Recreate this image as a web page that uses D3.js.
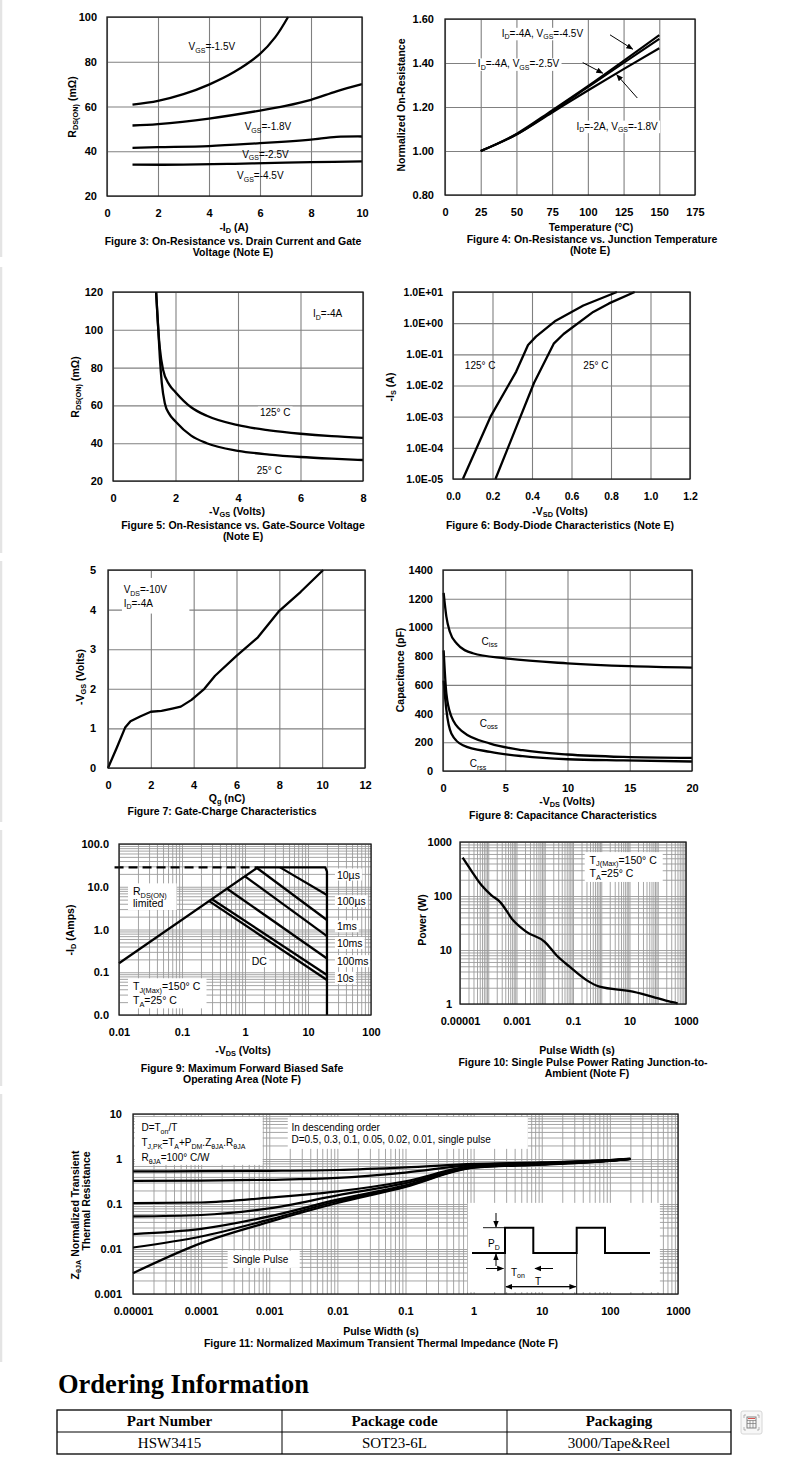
<!DOCTYPE html>
<html>
<head>
<meta charset="utf-8">
<script src="https://cdn.jsdelivr.net/npm/d3@7"></script>
<style>
  body { margin: 0; background: #fff; }
</style>
</head>
<body>
<svg id="page" width="790" height="1474"></svg>
<script>
// ---------------- data ----------------

// Figure 3: RDS(on) (mOhm) vs -ID (A)
const f3Vgs15 = [[1,60.8],[2,62.5],[3,65.5],[4,69.8],[5,75.5],[6,83.5],[6.6,91],[7.1,100]];
const f3Vgs18 = [[1,51.5],[2,52.1],[4,54.6],[6,58.2],[7,60.3],[8,63],[9,66.8],[10,70]];
const f3Vgs25 = [[1,41.5],[2,41.8],[4,42.3],[6,43.6],[7,44.3],[8,45.2],[9,46.4],[10,46.6]];
const f3Vgs45 = [[1,34],[3,34],[5,34.4],[7,34.9],[8,35.1],[10,35.5]];
const f3XTicks = [0,2,4,6,8,10];
const f3YTicks = [20,40,60,80,100];

// Figure 4: normalized on-resistance vs temperature
const f4Temp = [25,50,75,100,125,150];
const f4Vgs45 = [1.0,1.078,1.185,1.295,1.41,1.527];
const f4Vgs25 = [1.0,1.075,1.18,1.29,1.40,1.51];
const f4Vgs18 = [1.0,1.075,1.175,1.275,1.372,1.467];
const f4XTicks = [0,25,50,75,100,125,150,175];
const f4YTicks = [0.8,1.0,1.2,1.4,1.6];

// Figure 5: RDS(on) vs -VGS
const f5T25 = [[1.38,120],[1.45,100],[1.5,85],[1.56,72],[1.66,61],[1.8,55.5],[2,51.5],[2.5,44],[3,40],[4,36],[5,34],[6,32.7],[7,31.8],[8,31.1]];
const f5T125 = [[1.38,120],[1.45,100],[1.5,90],[1.6,79],[1.8,71],[2,67],[2.5,59],[3,54.5],[4,49.5],[5,46.8],[6,45],[7,43.7],[8,42.8]];
const f5XTicks = [0,2,4,6,8];
const f5YTicks = [20,40,60,80,100,120];

// Figure 6: body diode -IS (A) vs -VSD (V)
const f6T125 = [[0.05,1e-5],[0.19,1e-3],[0.32,2.8e-2],[0.38,0.2],[0.42,0.37],[0.52,1.2],[0.66,3.7],[0.83,10]];
const f6T25 = [[0.215,1e-5],[0.41,1.2e-2],[0.51,0.22],[0.56,0.45],[0.71,2.3],[0.79,4.3],[0.92,10]];
const f6XTicks = [0,0.2,0.4,0.6,0.8,1.0,1.2];
const f6YTicks = [1e-5,1e-4,1e-3,1e-2,1e-1,1,10];
const f6YLabels = ["1.0E-05","1.0E-04","1.0E-03","1.0E-02","1.0E-01","1.0E+00","1.0E+01"];

// Figure 7: gate charge
const f7Qg = [[0,0],[0.4,0.5],[0.8,1.02],[1.05,1.18],[1.5,1.3],[2,1.42],[2.5,1.44],[3,1.5],[3.4,1.55],[3.9,1.72],[4.5,2.0],[5,2.33],[6,2.83],[7,3.3],[8,3.97],[9,4.45],[10.05,5]];
const f7XTicks = [0,2,4,6,8,10,12];
const f7YTicks = [0,1,2,3,4,5];

// Figure 8: capacitance (pF) vs -VDS
const f8Ciss = [[0.05,1240],[0.27,1075],[0.55,970],[1.1,888],[2.4,820],[5,785],[10,750],[15,730],[20,720]];
const f8Coss = [[0.05,840],[0.27,540],[0.67,380],[1.6,272],[3.8,191],[6.4,145],[10,115],[14.5,98],[20,91]];
const f8Crss = [[0.05,630],[0.27,425],[0.67,262],[1.6,180],[3.8,133],[6.4,103],[10,82],[14.5,74],[20,66]];
const f8XTicks = [0,5,10,15,20];
const f8YTicks = [0,200,400,600,800,1000,1200,1400];

// Figure 9: safe operating area
const f9Envelope = [[0.01,0.162],[1.6,28.4],[18.8,28.4],[20,22.5],[20,0.01]];
const f9Dashed = [[0.0085,28.4],[1.6,28.4]];
const f9Pulses = ["10µs","100µs","1ms","10ms","100ms","10s"];
const f9Start = [[3.6,28.4],[1.55,27.5],[1.0,17.5],[0.52,9.0],[0.3,5.1],[0.27,4.6]];
const f9End = [[20,6.4],[20,1.67],[20,0.70],[20,0.21],[20,0.086],[20,0.066]];
const f9LabelY = [18.8,4.48,1.16,0.47,0.177,0.072];
const f9XTicks = [0.01,0.1,1,10,100];
const f9XLabels = ["0.01","0.1","1","10","100"];
const f9YTicks = [0.01,0.1,1,10,100];
const f9YLabels = ["0.0","0.1","1.0","10.0","100.0"];

// Figure 10: single pulse power rating
const f10Power = [[1.24e-5,514],[2.6e-5,287],[5.8e-5,158],[1.3e-4,103],[2.6e-4,78],[7.6e-4,35.6],[2.25e-3,21.7],[0.01,14.2],[0.026,8.0],[0.076,4.9],[0.3,2.77],[0.87,2.09],[13.1,1.70],[66.7,1.36],[195,1.15],[508,1.03]];
const f10XTicks = [1e-5,1e-3,0.1,10,1000];
const f10XLabels = ["0.00001","0.001","0.1","10","1000"];
const f10YTicks = [1,10,100,1000];

// Figure 11: normalized transient thermal impedance
const f11Time = [1e-5,1e-4,1e-3,1e-2,0.1,1,10,100,200];
const f11D05 = [0.53,0.535,0.545,0.57,0.65,0.78,0.84,0.95,1.02];
const f11D03 = [0.325,0.33,0.345,0.38,0.50,0.74,0.82,0.94,1.01];
const f11D01 = [0.105,0.108,0.138,0.19,0.32,0.70,0.80,0.93,1.0];
const f11D005 = [0.053,0.057,0.08,0.155,0.29,0.68,0.78,0.92,1.0];
const f11D002 = [0.0215,0.028,0.053,0.125,0.26,0.66,0.77,0.92,1.0];
const f11D001 = [0.0108,0.019,0.045,0.115,0.25,0.65,0.76,0.91,1.0];
const f11Single = [0.0029,0.0135,0.04,0.105,0.24,0.64,0.75,0.91,1.0];
const f11XTicks = [1e-5,1e-4,1e-3,1e-2,0.1,1,10,100,1000];
const f11XLabels = ["0.00001","0.0001","0.001","0.01","0.1","1","10","100","1000"];
const f11YTicks = [0.001,0.01,0.1,1,10];
const f11YLabels = ["0.001","0.01","0.1","1","10"];

// Ordering information
const orderHeaders = ["Part Number","Package code","Packaging"];
const orderRow = ["HSW3415","SOT23-6L","3000/Tape&Reel"];

// ---------------- helpers ----------------
const FONT = '"Liberation Sans", Arial, Helvetica, sans-serif';
const SERIF = '"Liberation Serif", "Times New Roman", serif';
const svg = d3.select("#page").attr("font-family", FONT);

svg.append("defs").append("marker")
  .attr("id", "arr").attr("viewBox", "0 0 10 10").attr("refX", 9).attr("refY", 5)
  .attr("markerWidth", 7).attr("markerHeight", 7).attr("markerUnits", "userSpaceOnUse")
  .attr("orient", "auto-start-reverse")
  .append("path").attr("d", "M0,1L10,5L0,9Z").attr("fill", "#000");

// "V_{GS}=-1.5V" -> tspans with subscripts
function rich(sel, str, drop) {
  drop = drop || 2.5;
  let low = false;
  str.split(/(_\{[^}]*\})/).filter(s => s.length).forEach(p => {
    if (p.startsWith("_{")) {
      sel.append("tspan").attr("font-size", "0.7em").attr("dy", low ? null : drop).text(p.slice(2, -1));
      low = true;
    } else {
      sel.append("tspan").attr("dy", low ? -drop : null).text(p);
      low = false;
    }
  });
  return sel;
}

function logGrid(dom) {
  const out = [];
  const e0 = Math.round(Math.log10(dom[0])), e1 = Math.round(Math.log10(dom[1]));
  for (let e = e0; e < e1; e++) for (let k = 1; k < 10; k++) out.push(k * Math.pow(10, e));
  out.push(dom[1]);
  return out;
}

function chart(c) {
  const [x0, y0, x1, y1] = c.box;
  const x = (c.xlog ? d3.scaleLog() : d3.scaleLinear()).domain(c.xdom).range([x0, x1]);
  const y = (c.ylog ? d3.scaleLog() : d3.scaleLinear()).domain(c.ydom).range([y1, y0]);
  const g = svg.append("g");
  const gridL = g.append("g"), labelL = g.append("g"), curveL = g.append("g"), frameL = g.append("g");
  const dense = c.xlog && c.ylog;
  const gridColor = dense ? "#9b9b9b" : "#808080";
  const gridW = dense ? 0.9 : 1.1;
  const tickSize = c.tickSize || 11;

  gridL.append("g").attr("transform", `translate(0,${y1})`)
    .call(d3.axisBottom(x).tickValues(c.xlog ? logGrid(c.xdom) : c.xticks).tickSize(-(y1 - y0)).tickFormat(""))
    .call(a => a.select(".domain").remove())
    .selectAll("line").attr("stroke", gridColor).attr("stroke-width", gridW);
  gridL.append("g").attr("transform", `translate(${x0},0)`)
    .call(d3.axisLeft(y).tickValues(c.ylog && c.yminor !== false ? logGrid(c.ydom) : c.yticks).tickSize(-(x1 - x0)).tickFormat(""))
    .call(a => a.select(".domain").remove())
    .selectAll("line").attr("stroke", gridColor).attr("stroke-width", gridW);

  const styleAxis = a => {
    a.select(".domain").remove();
    a.attr("font-family", FONT).attr("font-size", tickSize).attr("font-weight", "bold");
  };
  frameL.append("g").attr("transform", `translate(0,${y1})`)
    .call(d3.axisBottom(x).tickValues(c.xticks).tickSize(0).tickPadding(13.5)
      .tickFormat((d, i) => c.xlabels ? c.xlabels[i] : (c.xfmt ? d3.format(c.xfmt)(d) : d)))
    .call(styleAxis);
  frameL.append("g").attr("transform", `translate(${x0},0)`)
    .call(d3.axisLeft(y).tickValues(c.yticks).tickSize(0).tickPadding(c.ypad || 10)
      .tickFormat((d, i) => c.ylabels ? c.ylabels[i] : (c.yfmt ? d3.format(c.yfmt)(d) : d)))
    .call(styleAxis);
  frameL.append("rect").attr("x", x0).attr("y", y0).attr("width", x1 - x0).attr("height", y1 - y0)
    .attr("fill", "none").attr("stroke", "#1a1a1a").attr("stroke-width", 1.3);

  const ch = { x, y, gridL, labelL, curveL, frameL };
  ch.line = (pts, o = {}) => curveL.append("path").datum(pts)
    .attr("d", d3.line().x(d => x(d[0])).y(d => y(d[1])).curve(o.curve || d3.curveMonotoneX))
    .attr("fill", "none").attr("stroke", "#000").attr("stroke-width", o.w || 2.3)
    .attr("stroke-dasharray", o.dash || null).attr("stroke-linejoin", "round");
  ch.box = b => labelL.append("rect")
    .attr("x", Math.min(x(b[0]), x(b[2]))).attr("y", Math.min(y(b[1]), y(b[3])))
    .attr("width", Math.abs(x(b[2]) - x(b[0]))).attr("height", Math.abs(y(b[3]) - y(b[1])))
    .attr("fill", "#fff");
  ch.label = (px, py, str, o = {}) => {
    const t = labelL.append("text").attr("x", x(px)).attr("y", y(py) + 3.5)
      .attr("font-size", o.size || 10).attr("text-anchor", o.anchor || "start");
    rich(t, str);
    if (o.bg) {
      const b = t.node().getBBox();
      labelL.insert("rect", () => t.node()).attr("x", b.x - 2).attr("y", b.y)
        .attr("width", b.width + 4).attr("height", b.height).attr("fill", "#fff");
    }
    return t;
  };
  ch.arrow = (a, b) => curveL.append("line")
    .attr("x1", x(a[0])).attr("y1", y(a[1])).attr("x2", x(b[0])).attr("y2", y(b[1]))
    .attr("stroke", "#000").attr("stroke-width", 1).attr("marker-end", "url(#arr)");
  return ch;
}

function text(cx, cy, str, o = {}) {
  const t = svg.append("text").attr("x", cx).attr("y", cy + 3.7)
    .attr("font-size", o.size || 10.5).attr("font-weight", o.bold === false ? null : "bold")
    .attr("text-anchor", o.anchor || "middle");
  return rich(t, str, 2);
}
function vtext(cx, cy, str, o = {}) {
  const t = svg.append("text").attr("transform", `translate(${cx + 3.7},${cy}) rotate(-90)`)
    .attr("font-size", o.size || 10.5).attr("font-weight", "bold").attr("text-anchor", "middle");
  return rich(t, str, 2);
}

// faint page border on the left
[[0,257],[267,553],[561,822],[830,1086],[1094,1362]].forEach(s =>
  svg.append("line").attr("x1", 1).attr("x2", 1).attr("y1", s[0]).attr("y2", s[1])
    .attr("stroke", "#e4e4e4").attr("stroke-width", 2.5));

// ---------------- Figure 3 ----------------
const c3 = chart({ box: [107,17,362,196], xdom: [0,10], ydom: [20,100], xticks: f3XTicks, yticks: f3YTicks, ypad: 10 });
[f3Vgs15, f3Vgs18, f3Vgs25, f3Vgs45].forEach(s => c3.line(s, { curve: d3.curveCatmullRom }));
c3.label(3.2, 86.6, "V_{GS}=-1.5V");
c3.label(5.4, 50.9, "V_{GS}=-1.8V");
c3.label(5.3, 38.7, "V_{GS}=-2.5V");
c3.label(5.1, 29, "V_{GS}=-4.5V");
vtext(72, 107, "R_{DS(ON)} (mΩ)");
text(234, 227.5, "-I_{D} (A)");
text(233, 240.8, "Figure 3: On-Resistance vs. Drain Current and Gate");
text(233, 251.8, "Voltage (Note E)");

// ---------------- Figure 4 ----------------
const c4 = chart({ box: [445,19,695,195], xdom: [0,175], ydom: [0.8,1.6], xticks: f4XTicks, yticks: f4YTicks, yfmt: ".2f", ypad: 11 });
[f4Vgs45, f4Vgs25, f4Vgs18].forEach(s => c4.line(f4Temp.map((t, i) => [t, s[i]]), { w: 2.1 }));
c4.label(39.7, 1.535, "I_{D}=-4A, V_{GS}=-4.5V", { bg: true });
c4.label(23, 1.396, "I_{D}=-4A, V_{GS}=-2.5V", { bg: true });
c4.label(92, 1.113, "I_{D}=-2A, V_{GS}=-1.8V", { bg: true });
c4.arrow([115.5,1.528], [131.4,1.463]);
c4.arrow([96.4,1.402], [110.4,1.354]);
c4.arrow([134.6,1.241], [120.2,1.347]);
vtext(401, 105, "Normalized On-Resistance");
text(591, 227, "Temperature (°C)");
text(592, 239.5, "Figure 4: On-Resistance vs. Junction Temperature");
text(590, 250.5, "(Note E)");

// ---------------- Figure 5 ----------------
const c5 = chart({ box: [113,292,363,481], xdom: [0,8], ydom: [20,120], xticks: f5XTicks, yticks: f5YTicks });
c5.line(f5T25);
c5.line(f5T125);
c5.label(6.4, 108.5, "I_{D}=-4A");
c5.label(4.7, 56.5, "125° C", { bg: true });
c5.label(4.6, 25.6, "25° C", { bg: true });
vtext(75, 387, "R_{DS(ON)} (mΩ)");
text(237, 511, "-V_{GS} (Volts)");
text(243, 525, "Figure 5: On-Resistance vs. Gate-Source Voltage");
text(243, 536, "(Note E)");

// ---------------- Figure 6 ----------------
const c6 = chart({ box: [453,292,690,479], xdom: [0,1.2], ydom: [1e-5,10], ylog: true, yminor: false,
  xticks: f6XTicks, xfmt: ".1f", yticks: f6YTicks, ylabels: f6YLabels, tickSize: 10.5 });
c6.line(f6T125, { curve: d3.curveLinear });
c6.line(f6T25, { curve: d3.curveLinear });
c6.label(0.06, Math.pow(10, -1.35), "125° C");
c6.label(0.66, Math.pow(10, -1.35), "25° C");
vtext(390, 387, "-I_{S} (A)");
text(560, 511, "-V_{SD} (Volts)");
text(560, 525, "Figure 6: Body-Diode Characteristics (Note E)");

// ---------------- Figure 7 ----------------
const c7 = chart({ box: [108,570,365,768], xdom: [0,12], ydom: [0,5], xticks: f7XTicks, yticks: f7YTicks, ypad: 12 });
c7.box([0.65,4.8,3.8,3.9]);
c7.label(0.73, 4.5, "V_{DS}=-10V");
c7.label(0.73, 4.16, "I_{D}=-4A");
c7.line(f7Qg, { curve: d3.curveLinear });
vtext(80, 677, "-V_{GS} (Volts)");
text(227, 798.5, "Q_{g} (nC)");
text(222, 811, "Figure 7: Gate-Charge Characteristics");

// ---------------- Figure 8 ----------------
const c8 = chart({ box: [443,570,692,771], xdom: [0,20], ydom: [0,1400], xticks: f8XTicks, yticks: f8YTicks });
c8.label(3.1, 902, "C_{iss}", { bg: true });
c8.label(2.95, 332, "C_{oss}", { bg: true });
c8.label(2.15, 51, "C_{rss}", { bg: true });
[f8Ciss, f8Coss, f8Crss].forEach(s => c8.line(s));
vtext(400, 670, "Capacitance (pF)");
text(567, 801.5, "-V_{DS} (Volts)");
text(563, 815, "Figure 8: Capacitance Characteristics");

// ---------------- Figure 9 ----------------
const c9 = chart({ box: [119,844,371,1015], xdom: [0.01,100], ydom: [0.01,100], xlog: true, ylog: true,
  xticks: f9XTicks, xlabels: f9XLabels, yticks: f9YTicks, ylabels: f9YLabels });
c9.box([0.0139,12,0.082,2.86]);
c9.box([0.0139,0.0723,0.245,0.0143]);
c9.label(0.0167, 7.7, "R_{DS(ON)}", { size: 10.5 });
c9.label(0.0167, 4.1, "limited", { size: 10.5 });
c9.label(0.0167, 0.046, "T_{J(Max)}=150° C", { size: 10.5 });
c9.label(0.0167, 0.0216, "T_{A}=25° C", { size: 10.5 });
c9.label(1.69, 0.177, "DC", { size: 10.5, anchor: "middle", bg: true });
f9Pulses.forEach((p, i) => c9.label(28.8, f9LabelY[i], p, { size: 10.5, bg: true }));
c9.line(f9Envelope, { curve: d3.curveLinear });
c9.line(f9Dashed, { curve: d3.curveLinear, dash: "9,5" });
f9Pulses.forEach((p, i) => c9.line([f9Start[i], f9End[i]], { curve: d3.curveLinear }));
vtext(70, 930, "-I_{D} (Amps)");
text(243, 1050, "-V_{DS} (Volts)");
text(242, 1068, "Figure 9: Maximum Forward Biased Safe");
text(242, 1079, "Operating Area (Note F)");

// ---------------- Figure 10 ----------------
const c10 = chart({ box: [460,842,686,1004], xdom: [1e-5,1000], ydom: [1,1000], xlog: true, ylog: true,
  xticks: f10XTicks, xlabels: f10XLabels, yticks: f10YTicks, ypad: 8 });
c10.box([0.26,650,150,182]);
c10.label(0.387, 460, "T_{J(Max)}=150° C", { size: 10.5 });
c10.label(0.387, 260, "T_{A}=25° C", { size: 10.5 });
c10.line(f10Power);
vtext(422, 920, "Power (W)");
text(577, 1050, "Pulse Width (s)");
text(583, 1062, "Figure 10: Single Pulse Power Rating Junction-to-");
text(587, 1073, "Ambient (Note F)");

// ---------------- Figure 11 ----------------
const c11 = chart({ box: [133,1114,678,1294], xdom: [1e-5,1000], ydom: [0.001,10], xlog: true, ylog: true,
  xticks: f11XTicks, xlabels: f11XLabels, yticks: f11YTicks, ylabels: f11YLabels, ypad: 11 });
c11.box([1.06e-5,8.6,8e-4,0.74]);
c11.box([1.87e-3,8.6,6.25,1.68]);
c11.box([2.45e-4,0.0092,2.8e-3,0.0038]);
c11.box([0.82,0.106,542,0.0011]);
c11.label(1.33e-5, 4.9, "D=T_{on}/T");
c11.label(1.33e-5, 2.27, "T_{J,PK}=T_{A}+P_{DM}.Z_{θJA}.R_{θJA}");
c11.label(1.33e-5, 1.06, "R_{θJA}=100° C/W");
c11.label(2.12e-3, 4.9, "In descending order");
c11.label(2.12e-3, 2.65, "D=0.5, 0.3, 0.1, 0.05, 0.02, 0.01, single pulse");
c11.label(2.9e-4, 0.0058, "Single Pulse");
[f11D05, f11D03, f11D01, f11D005, f11D002, f11D001, f11Single]
  .forEach(s => c11.line(f11Time.map((t, i) => [t, s[i]]), { w: 2.2 }));

// pulse sketch inside the inset (local sketch coordinates)
const ins = c11.labelL.append("g").attr("transform", "translate(468,1203)");
ins.append("path").attr("d", "M4,50H37V24.7H65.3V50H108.7V24.7H137V50H182")
  .attr("fill", "none").attr("stroke", "#000").attr("stroke-width", 2);
ins.append("path").attr("d", "M15,24.7H37M37,24.7V91M108.7,50V91")
  .attr("fill", "none").attr("stroke", "#000").attr("stroke-width", 0.9);
const arrows = [[28,10,28,24],[28,63,28,51],[18,65.5,35.5,65.5],[85,65.5,67,65.5],[38,83.7,107.7,83.7],[107.7,83.7,38,83.7]];
arrows.forEach(a => ins.append("line").attr("x1", a[0]).attr("y1", a[1]).attr("x2", a[2]).attr("y2", a[3])
  .attr("stroke", "#000").attr("stroke-width", 1).attr("marker-end", "url(#arr)"));
rich(ins.append("text").attr("x", 20).attr("y", 44).attr("font-size", 10), "P_{D}");
rich(ins.append("text").attr("x", 43).attr("y", 72.5).attr("font-size", 10), "T_{on}");
ins.append("text").attr("x", 70).attr("y", 82).attr("font-size", 10).attr("text-anchor", "middle").text("T");

vtext(75, 1215, "Z_{θJA} Normalized Transient");
vtext(86, 1201, "Thermal Resistance");
text(381, 1331, "Pulse Width (s)");
text(381, 1343, "Figure 11: Normalized Maximum Transient Thermal Impedance (Note F)");

// ---------------- Ordering information ----------------
svg.append("text").attr("x", 58).attr("y", 1393).attr("font-family", SERIF).attr("font-weight", "bold")
  .attr("font-size", 26.5).text("Ordering Information");
const tbl = svg.append("g").attr("font-family", SERIF).attr("font-size", 15);
const colX = [57, 282, 507, 731], rowY = [1410, 1432, 1454];
tbl.append("rect").attr("x", colX[0]).attr("y", rowY[0]).attr("width", colX[3] - colX[0]).attr("height", rowY[2] - rowY[0])
  .attr("fill", "none").attr("stroke", "#000").attr("stroke-width", 1.3);
tbl.append("line").attr("x1", colX[0]).attr("x2", colX[3]).attr("y1", rowY[1]).attr("y2", rowY[1]).attr("stroke", "#000");
[colX[1], colX[2]].forEach(cx => tbl.append("line").attr("x1", cx).attr("x2", cx).attr("y1", rowY[0]).attr("y2", rowY[2]).attr("stroke", "#000"));
orderHeaders.forEach((h, i) => tbl.append("text").attr("x", (colX[i] + colX[i + 1]) / 2).attr("y", 1426)
  .attr("text-anchor", "middle").attr("font-weight", "bold").text(h));
orderRow.forEach((h, i) => tbl.append("text").attr("x", (colX[i] + colX[i + 1]) / 2).attr("y", 1448)
  .attr("text-anchor", "middle").text(h));

// small table tool icon
const ic = svg.append("g").attr("transform", "translate(741,1411)");
ic.append("rect").attr("width", 21).attr("height", 23).attr("rx", 2).attr("fill", "#f7f7f7").attr("stroke", "#d6d6d6");
ic.append("rect").attr("x", 6).attr("y", 6).attr("width", 9).attr("height", 11).attr("fill", "none").attr("stroke", "#777").attr("stroke-width", 0.9);
ic.append("path").attr("d", "M6,9.5H15M6,12.5H15M9,9.5V17M12,9.5V17").attr("stroke", "#777").attr("stroke-width", 0.7);
ic.append("path").attr("d", "M7,7.5H14").attr("stroke", "#d9534f").attr("stroke-width", 1);
ic.append("path").attr("d", "M3,4V7M3,4H5M18,4V7M18,4H16M3,19V16M3,19H5M18,19V16M18,19H16").attr("fill", "none").attr("stroke", "#999").attr("stroke-width", 0.7);
</script>
</body>
</html>
